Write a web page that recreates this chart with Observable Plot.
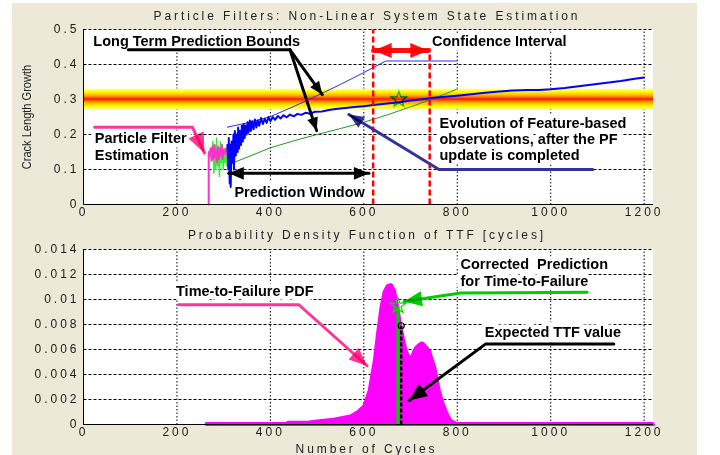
<!DOCTYPE html>
<html><head><meta charset="utf-8">
<script src="https://cdn.jsdelivr.net/npm/d3@7"></script>
<script src="https://cdn.jsdelivr.net/npm/@observablehq/plot@0.6"></script>
<style>
html,body{margin:0;padding:0;background:#fff;}
#page{position:relative;width:720px;height:455px;overflow:hidden;background:#fff;font-family:"Liberation Sans",Arial,Helvetica,sans-serif;}
#bg{position:absolute;left:12px;top:3px;width:685px;height:452px;background:#ece9d8;}
.plot{position:absolute;left:0;}
.over{mix-blend-mode:multiply;}
.ttl{position:absolute;font-size:12px;line-height:14px;letter-spacing:2.9px;color:#222;text-align:center;white-space:nowrap;}
#ylab{position:absolute;left:-73px;top:110px;width:200px;text-align:center;font-size:13px;line-height:14px;color:#222;white-space:nowrap;transform:rotate(-90deg) scaleX(0.85);}
</style></head>
<body>
<div id="page">
  <div id="bg"></div>
  <div id="topBase" class="plot" style="top:0px"></div>
  <div id="botBase" class="plot" style="top:225px"></div>
  <div id="top" class="plot over" style="top:0px"></div>
  <div id="bot" class="plot over" style="top:225px"></div>
  <div class="ttl" style="left:0;width:734px;top:9px">Particle Filters: Non-Linear System State Estimation</div>
  <div class="ttl" style="left:0;width:734px;top:228px">Probability Density Function of TTF [cycles]</div>
  <div class="ttl" style="left:0;width:733px;top:442px">Number of Cycles</div>
  <div id="ylab">Crack Length Growth</div>
</div>
<script>
// ---------------- data ----------------
const xMax = 1220;
const xTicks = [0, 200, 400, 600, 800, 1000, 1200];
const xTickLabels = ["0", "200", "400", "600", "800", "1000", "1200"];
const topYTicks = [0, 0.1, 0.2, 0.3, 0.4, 0.5];
const topYTickLabels = ["0", "0.1", "0.2", "0.3", "0.4", "0.5"];
const botYTicks = [0, 0.002, 0.004, 0.006, 0.008, 0.01, 0.012, 0.014];
const botYTickLabels = ["0", "0.002", "0.004", "0.006", "0.008", "0.01", "0.012", "0.014"];

// failure threshold band (crack length)
const thresholdBand = [[0.27, 0.33]];

// particle filter estimation (pink)
const pfEstimate = [[268,0],[268,0.15],[270,0.14],[272,0.16],[274,0.125],[276,0.165],[278,0.13],[280,0.17],[282,0.135],[284,0.155],[286,0.12],[288,0.165],[290,0.13],[292,0.16],[294,0.14],[296,0.17],[298,0.13],[300,0.155],[302,0.145],[305,0.16],[307,0.15]];
// early measurements (green)
const earlyObs = [[275,0.15],[277,0.18],[279,0.09],[281,0.17],[283,0.1],[285,0.19],[287,0.11],[289,0.16],[291,0.08],[293,0.18],[295,0.12],[297,0.17],[299,0.1],[301,0.16],[303,0.12],[305,0.15],[307,0.11],[309,0.13]];
// feature-based observations after PF update (blue)
const featureObs = [[308,0.17],[310,0.10],[311,0.19],[313,0.06],[314,0.17],[315,0.05],[317,0.18],[319,0.12],[321,0.2],[322,0.1],[324,0.21],[326,0.14],[328,0.2],[330,0.15],[331,0.22],[333,0.16],[335,0.21],[337,0.17],[339,0.225],[341,0.18],[343,0.23],[345,0.19],[347,0.225],[349,0.2],[351,0.235],[353,0.205],[356,0.24],[358,0.21],[361,0.238],[364,0.215],[367,0.243],[370,0.22],[373,0.24],[376,0.225],[380,0.247],[384,0.23],[388,0.245],[392,0.233],[396,0.25],[400,0.238],[405,0.25],[410,0.242],[416,0.253],[422,0.246],[428,0.255],[435,0.249],[442,0.257],[450,0.252],[458,0.259],[466,0.256],[475,0.262],[485,0.259],[495,0.265],[510,0.266],[525,0.27],[540,0.273],[555,0.275],[570,0.277],[585,0.279],[600,0.281],[620,0.284],[640,0.287],[660,0.29],[680,0.293],[700,0.297],[725,0.301],[750,0.305],[775,0.308],[800,0.311],[830,0.315],[860,0.319],[890,0.323],[920,0.326],[950,0.327],[975,0.327],[1000,0.329],[1030,0.333],[1060,0.338],[1090,0.343],[1120,0.348],[1150,0.353],[1180,0.359],[1200,0.363]];
// long term prediction bounds
const upperBound = [[308,0.221],[350,0.233],[400,0.251],[450,0.28],[500,0.311],[550,0.343],[600,0.377],[647,0.41],[800,0.41]];
const lowerBound = [[312,0.115],[350,0.135],[400,0.162],[450,0.182],[500,0.2],[550,0.217],[600,0.235],[650,0.256],[700,0.279],[750,0.303],[800,0.33]];
// threshold crossing of the observations
const thresholdCross = [[675, 0.3]];
// confidence interval limits
const confidenceLimits = [[620, 0.5], [741, 0.446]];
const confidenceArrowY = 0.44;
const confidenceArrowX = [621, 738];
// prediction window
const predictionWindowY = 0.089;
const predictionWindowX = [311, 611];

// TTF probability density
const ttfPdf = [[263,0],[263,0.0001],[300,0.0001],[350,0.0001],[400,0.0001],[436,0.0001],[437,0.0002],[480,0.0002],[500,0.0003],[536,0.00045],[572,0.0007],[586,0.001],[600,0.0015],[611,0.0027],[622,0.0051],[629,0.0073],[636,0.0093],[643,0.0106],[650,0.0111],[657,0.0112],[661,0.0112],[668,0.0107],[675,0.0094],[682,0.0078],[689,0.0065],[694,0.0058],[699,0.0054],[703,0.0055],[707,0.0059],[712,0.0062],[718,0.0064],[724,0.00655],[729,0.0065],[736,0.0062],[743,0.0059],[748,0.0053],[754,0.0046],[759,0.0037],[764,0.0027],[771,0.0018],[778,0.0011],[784,0.0006],[789,0.0003],[800,0.0001],[1220,0.0001]];
const pdfBaseline = [[263,0],[1220,0]];
const correctedTTF = [[673, 0.0095]];
const expectedTTF = [[680, 0.0079]];

// annotations (data coordinates)
const topLabels = [
  {x: 21, y: 0.466, text: "Long Term Prediction Bounds"},
  {x: 746, y: 0.466, text: "Confidence Interval"},
  {x: 24, y: 0.188, text: "Particle Filter"},
  {x: 24, y: 0.14, text: "Estimation"},
  {x: 323, y: 0.034, text: "Prediction Window"},
  {x: 762, y: 0.139, text: "update is completed"}
];
const evolutionLines = [
  {x: 762, y: 0.2306, text: "Evolution of Feature-based"},
  {x: 762, y: 0.185, text: "observations, after the PF"}
];
const boundsLeader = [[96,0.442],[442,0.442]];
const boundsArrows = [[442,0.442,511,0.314],[442,0.442,499,0.211]];
const pfLeader = [[24,0.221],[233,0.221],[259,0.147]];
const obsLeader = [[1090,0.1],[761,0.1],[568,0.257]];

const botLabels = [
  {x: 198, y: 0.01064, text: "Time-to-Failure PDF"},
  {x: 807, y: 0.01278, text: "Corrected  Prediction"},
  {x: 807, y: 0.01144, text: "for Time-to-Failure"},
  {x: 859, y: 0.00734, text: "Expected TTF value"}
];
const pdfLeader = [[203,0.00958],[461,0.00958],[607,0.0047]];
const correctedLeader = [[1078,0.01058],[807,0.01052],[686,0.00984]];
const expectedLeader = [[1135,0.00645],[861,0.00645],[697,0.00192]];

// ---------------- helpers ----------------
const font = "Liberation Sans, Arial, Helvetica, sans-serif";
const X = d => d[0], Y = d => d[1];
const W = 720, ML = 83, MR = 67;
const arrowHead = {
  draw(ctx, size) {
    const s = Math.sqrt(size);
    ctx.moveTo(0, 0);
    ctx.lineTo(-0.42 * s, s);
    ctx.lineTo(0.42 * s, s);
    ctx.closePath();
  }
};
function heads(list, color, len, sx, sy) {
  return Plot.dot(list, {
    x: d => d[2], y: d => d[3],
    rotate: d => Math.atan2(sx.apply(d[2]) - sx.apply(d[0]), -(sy.apply(d[3]) - sy.apply(d[1]))) * 180 / Math.PI,
    symbol: arrowHead, r: len / Math.sqrt(Math.PI), fill: color, stroke: "none"
  });
}
// segments [x1,y1,x2,y2] -> points with a segment key, for Plot.line with z
const segs = list => list.flatMap((s, k) => [{x: s[0], y: s[1], k}, {x: s[2], y: s[3], k}]);
const vSegs = pts => pts.map(([x, y]) => [x, 0, x, y]);
const lastSeg = p => [[p[p.length - 2][0], p[p.length - 2][1], p[p.length - 1][0], p[p.length - 1][1]]];
const tickLab = (ticks, labels) => d => labels[ticks.indexOf(d)];
const textOpts = {x: "x", y: "y", text: "text", textAnchor: "start", fontWeight: "bold", fontSize: 14.5, fontFamily: font, fill: "#000", stroke: "white", strokeWidth: 9, paintOrder: "stroke"};

function gridMarks(yTicks, yMax) {
  const hs = yTicks.slice(1).map(v => ({v}));
  const vs = xTicks.slice(1).map(v => ({v}));
  return [
    Plot.rect([{v: yMax}], {x1: 0, x2: xMax, y1: 0, y2: "v", fill: "white"}),
    Plot.link(hs, {x1: () => 0, x2: () => xMax, y1: "v", y2: "v", stroke: "black", strokeWidth: 1, strokeDasharray: "3,2"}),
    Plot.link(vs, {x1: "v", x2: "v", y1: () => 0, y2: () => yMax, stroke: "black", strokeWidth: 1, strokeDasharray: "1.5,2"})
  ];
}
function axisMarks(yTicks, yLabels) {
  return [
    Plot.axisX({ticks: xTicks, tickSize: 0, tickPadding: 3, tickFormat: tickLab(xTicks, xTickLabels), fontSize: 12, fill: "#222"}),
    Plot.axisY({ticks: yTicks, tickSize: 0, tickPadding: 4, tickFormat: tickLab(yTicks, yLabels), fontSize: 12, fill: "#222"})
  ];
}
const frameLines = [Plot.ruleY([0], {stroke: "#000", strokeWidth: 1}), Plot.ruleX([0], {stroke: "#000", strokeWidth: 1})];
function finish(svg) {
  d3.select(svg).selectAll('g[aria-label*="tick label"] text').style("letter-spacing", "3px");
  return svg;
}
const lineSeg = (list, o) => Plot.line(segs(list), {x: "x", y: "y", z: "k", ...o});

// ---------------- top chart ----------------
const topH = 225, topMT = 29, topMB = 21;
const sxT = Plot.scale({x: {domain: [0, xMax], range: [ML, W - MR]}});
const syT = Plot.scale({y: {domain: [0, 0.5], range: [topH - topMB, topMT]}});
const topDims = {width: W, height: topH, marginLeft: ML, marginRight: MR, marginTop: topMT, marginBottom: topMB};

const topBase = Plot.plot({
  ...topDims,
  x: {domain: [0, xMax], axis: null}, y: {domain: [0, 0.5], axis: null},
  style: {background: "transparent", overflow: "visible", fontFamily: font},
  marks: [
    ...gridMarks(topYTicks, 0.5),
    Plot.rect(thresholdBand, {x1: 0, x2: xMax, y1: d => d[0], y2: d => d[1], fill: "url(#bandGrad)"}),
    Plot.text(topLabels, textOpts),
    Plot.text(evolutionLines, {...textOpts, ariaLabel: "justified"}),
    Plot.line(upperBound, {x: X, y: Y, stroke: "#2a2aff", strokeWidth: 1}),
    Plot.line(lowerBound, {x: X, y: Y, stroke: "#1e9a1e", strokeWidth: 1}),
    Plot.line(earlyObs, {x: X, y: Y, stroke: "#33ee33", strokeWidth: 1.5}),
    Plot.line(pfEstimate, {x: X, y: Y, stroke: "#ff33cc", strokeWidth: 2}),
    Plot.line(featureObs, {x: X, y: Y, stroke: "#0000ff", strokeWidth: 2}),
    lineSeg(vSegs(confidenceLimits), {stroke: "#ff0000", strokeWidth: 2.5, strokeDasharray: "6,3", strokeLinecap: "butt"}),
    Plot.line(boundsLeader, {x: X, y: Y, stroke: "#000", strokeWidth: 3}),
    lineSeg(boundsArrows, {stroke: "#000", strokeWidth: 3}),
    Plot.line(pfLeader, {x: X, y: Y, stroke: "#ff3399", strokeWidth: 3}),
    Plot.line(obsLeader, {x: X, y: Y, stroke: "#333399", strokeWidth: 3}),
    lineSeg([[confidenceArrowX[0], confidenceArrowY, confidenceArrowX[1], confidenceArrowY]], {stroke: "#ff1010", strokeWidth: 5}),
    lineSeg([[predictionWindowX[0], predictionWindowY, predictionWindowX[1], predictionWindowY]], {stroke: "#000", strokeWidth: 3}),
    ...frameLines
  ]
});
{
  const svg = d3.select(topBase);
  const g = svg.insert("defs", ":first-child").append("linearGradient")
    .attr("id", "bandGrad").attr("x1", 0).attr("y1", 0).attr("x2", 0).attr("y2", 1);
  [[0, "#ffffb0"], [0.14, "#ffff00"], [0.3, "#ffc000"], [0.42, "#ff6a00"], [0.5, "#ff1000"], [0.58, "#ff6a00"], [0.7, "#ffc000"], [0.86, "#ffff00"], [1, "#ffffb0"]]
    .forEach(([o, c]) => g.append("stop").attr("offset", o).attr("stop-color", c));
  svg.selectAll('g[aria-label="justified"] text').attr("textLength", 201).attr("lengthAdjust", "spacing");
}
document.getElementById("topBase").appendChild(topBase);

const topPlot = Plot.plot({
  ...topDims,
  x: {domain: [0, xMax], label: null}, y: {domain: [0, 0.5], label: null},
  style: {background: "transparent", overflow: "visible", fontFamily: font, fontSize: "12px"},
  marks: [
    Plot.dot(thresholdCross, {x: X, y: Y, symbol: "star", r: 5, stroke: "#00dd00", strokeWidth: 1.2, fill: "none"}),
    heads(boundsArrows, "#000", 13, sxT, syT),
    heads(lastSeg(pfLeader), "#ff3399", 20, sxT, syT),
    heads(lastSeg(obsLeader), "#333399", 15, sxT, syT),
    heads([[confidenceArrowX[1], confidenceArrowY, confidenceArrowX[0], confidenceArrowY], [confidenceArrowX[0], confidenceArrowY, confidenceArrowX[1], confidenceArrowY]], "#ff1010", 18, sxT, syT),
    heads([[predictionWindowX[1], predictionWindowY, predictionWindowX[0], predictionWindowY], [predictionWindowX[0], predictionWindowY, predictionWindowX[1], predictionWindowY]], "#000", 15, sxT, syT),
    ...axisMarks(topYTicks, topYTickLabels)
  ]
});
document.getElementById("top").appendChild(finish(topPlot));

// ---------------- bottom chart ----------------
const botH = 230, botMT = 24, botMB = 31;
const syB = Plot.scale({y: {domain: [0, 0.014], range: [botH - botMB, botMT]}});
const botDims = {width: W, height: botH, marginLeft: ML, marginRight: MR, marginTop: botMT, marginBottom: botMB};

const botBase = Plot.plot({
  ...botDims,
  x: {domain: [0, xMax], axis: null}, y: {domain: [0, 0.014], axis: null},
  style: {background: "transparent", overflow: "visible", fontFamily: font},
  marks: [
    ...gridMarks(botYTicks, 0.014),
    Plot.text(botLabels, textOpts),
    Plot.areaY(ttfPdf, {x: X, y: Y, fill: "#ff00ff", stroke: "#ff00ff", strokeWidth: 1.5}),
    Plot.line(pdfBaseline, {x: X, y: Y, stroke: "#ff00ff", strokeWidth: 3}),
    lineSeg(vSegs(correctedTTF), {stroke: "#00cc00", strokeWidth: 3, strokeLinecap: "butt"}),
    lineSeg(vSegs(expectedTTF), {stroke: "#000", strokeWidth: 2.5, strokeDasharray: "4,2", strokeLinecap: "butt"}),
    Plot.dot(correctedTTF, {x: X, y: Y, symbol: "star", r: 5, stroke: "#00dd00", strokeWidth: 1.2, fill: "none"}),
    Plot.line(pdfLeader, {x: X, y: Y, stroke: "#ff3399", strokeWidth: 3}),
    Plot.line(correctedLeader, {x: X, y: Y, stroke: "#00cc00", strokeWidth: 3}),
    Plot.line(expectedLeader, {x: X, y: Y, stroke: "#000", strokeWidth: 3}),
    ...frameLines
  ]
});
document.getElementById("botBase").appendChild(botBase);

const botPlot = Plot.plot({
  ...botDims,
  x: {domain: [0, xMax], label: null}, y: {domain: [0, 0.014], label: null},
  style: {background: "transparent", overflow: "visible", fontFamily: font, fontSize: "12px"},
  marks: [
    Plot.dot(expectedTTF, {x: X, y: Y, r: 3, stroke: "#000", strokeWidth: 1.2, fill: "none"}),
    heads(lastSeg(pdfLeader), "#ff3399", 18, sxT, syB),
    heads(lastSeg(correctedLeader), "#00cc00", 18, sxT, syB),
    heads(lastSeg(expectedLeader), "#000", 18, sxT, syB),
    ...axisMarks(botYTicks, botYTickLabels)
  ]
});
document.getElementById("bot").appendChild(finish(botPlot));
</script>
</body></html>
